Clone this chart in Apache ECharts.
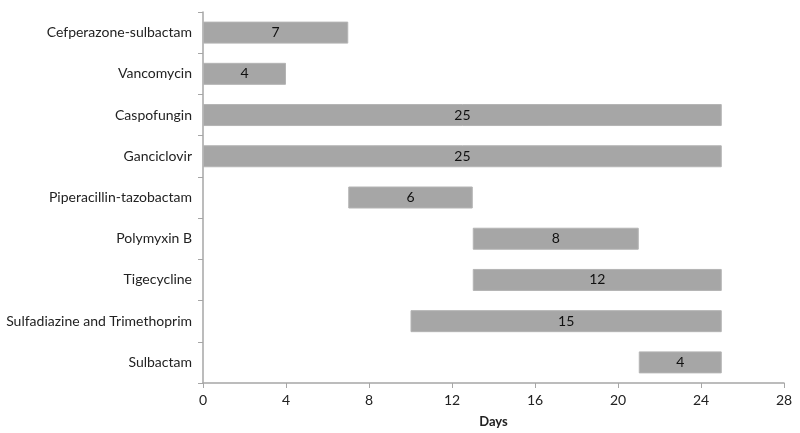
<!DOCTYPE html>
<html><head><meta charset="utf-8">
<script src="https://cdn.jsdelivr.net/npm/echarts@6/dist/echarts.min.js"></script>
<style>html,body{margin:0;padding:0;background:#fff}#c{width:800px;height:433px}</style>
</head><body><div id="c"></div>
<script>
const categories = ["Cefperazone-sulbactam","Vancomycin","Caspofungin","Ganciclovir","Piperacillin-tazobactam","Polymyxin B","Tigecycline","Sulfadiazine and Trimethoprim","Sulbactam"];
const startDays = [0,0,0,0,7,13,13,10,21];
const durations = [7,4,25,25,6,8,12,15,4];
const xTicks = {min:0, max:28, interval:4};
const FONT = "Lato";
const chart = echarts.init(document.getElementById('c'), null, {renderer:'canvas'});
chart.setOption({
  animation:false,
  grid:{left:203, right:16, top:12, bottom:49},
  xAxis:{type:'value', min:xTicks.min, max:xTicks.max, interval:xTicks.interval,
    name:'Days', nameLocation:'middle', nameGap:32,
    nameTextStyle:{fontFamily:FONT, fontWeight:'bold', fontSize:13, color:'#222'},
    axisLine:{show:true, lineStyle:{color:'#a6a6a6', width:1.5}},
    axisTick:{show:true, length:5, lineStyle:{color:'#a6a6a6'}},
    axisLabel:{fontFamily:FONT, fontSize:14, color:'#222', margin:10},
    splitLine:{show:false}},
  yAxis:{type:'category', data:categories, inverse:true,
    axisLine:{show:true, lineStyle:{color:'#a6a6a6', width:1.5}},
    axisTick:{show:true, length:5, alignWithLabel:false, lineStyle:{color:'#a6a6a6'}},
    axisLabel:{fontFamily:FONT, fontSize:14, color:'#222', margin:11}},
  series:[
    {type:'bar', stack:'g', data:startDays, itemStyle:{color:'transparent'}, silent:true, barWidth:22},
    {type:'bar', stack:'g', data:durations, barWidth:22,
      itemStyle:{color:'#a6a6a6', borderColor:'#b4b4b4', borderWidth:1},
      label:{show:true, position:'inside', fontFamily:FONT, fontSize:14, color:'#111'}}
  ]
});
</script></body></html>
